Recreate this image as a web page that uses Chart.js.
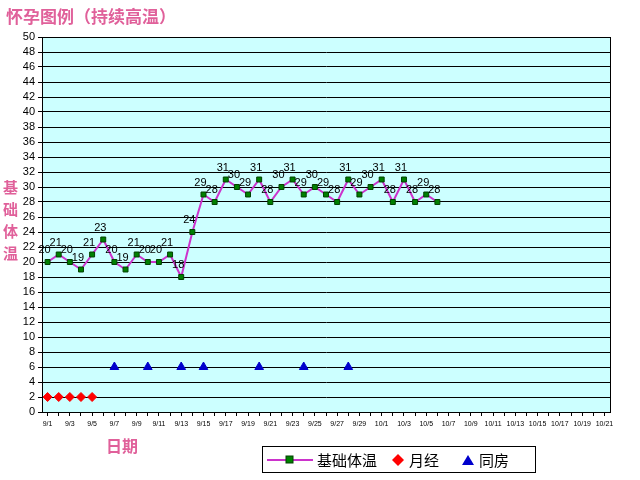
<!DOCTYPE html>
<html><head><meta charset="utf-8">
<script src="https://cdn.jsdelivr.net/npm/chart.js@4/dist/chart.umd.min.js"></script>
<style>
body{margin:0;background:#fff;font-family:"Noto Sans CJK SC",sans-serif;}
#wrap{position:relative;width:640px;height:480px;}
canvas{position:absolute;left:0;top:0;}
.t{position:absolute;color:#E0609A;font-weight:bold;}
#legend{position:absolute;left:262px;top:446px;width:272px;height:25px;border:1px solid #000;background:#fff;font-size:15px;display:flex;align-items:center;}
</style></head><body>
<div id="wrap">
<canvas id="c" width="640" height="480"></canvas>
<div class="t" style="left:6px;top:3px;font-size:17px;">怀孕图例（持续高温）</div>
<div class="t" style="left:3px;top:176px;font-size:15px;line-height:22px;width:16px;">基<br>础<br>体<br>温</div>
<div class="t" style="left:106px;top:433px;font-size:16px;">日期</div>
<div id="legend">
<svg width="48" height="14" style="margin-left:4px"><line x1="0" y1="7" x2="46" y2="7" stroke="#CC33CC" stroke-width="2"/><rect x="19" y="3" width="7" height="7" fill="#008000" stroke="#004000"/></svg>
<span style="margin-left:2px">基础体温</span>
<svg width="14" height="14" style="margin-left:14px"><polygon points="7,1 13,7 7,13 1,7" fill="#FF0000"/></svg>
<span style="margin-left:4px">月经</span>
<svg width="14" height="14" style="margin-left:22px"><polygon points="7,2 13,12 1,12" fill="#0000CC"/></svg>
<span style="margin-left:4px">同房</span>
</div>
</div>
<script>
const days = ["9/1","9/2","9/3","9/4","9/5","9/6","9/7","9/8","9/9","9/10","9/11","9/12","9/13","9/14","9/15","9/16","9/17","9/18","9/19","9/20","9/21","9/22","9/23","9/24","9/25","9/26","9/27","9/28","9/29","9/30","10/1","10/2","10/3","10/4","10/5","10/6","10/7","10/8","10/9","10/10","10/11","10/12","10/13","10/14","10/15","10/16","10/17","10/18","10/19","10/20","10/21"];
const bbt = [20,21,20,19,21,23,20,19,21,20,20,21,18,24,29,28,31,30,29,31,28,30,31,29,30,29,28,31,29,30,31,28,31,28,29,28];
const menses = [2,2,2,2,2];
const intercourseDays = ["9/7","9/10","9/13","9/15","9/20","9/24","9/28"];
const intercourseLevel = 6;
const yTicks = [0,2,4,6,8,10,12,14,16,18,20,22,24,26,28,30,32,34,36,38,40,42,44,46,48,50];

const bg = {id:'bg',beforeDraw(ch){const a=ch.chartArea,x=ch.ctx;x.save();x.fillStyle='#CCFFFF';x.fillRect(a.left,a.top,a.right-a.left,a.bottom-a.top);x.restore();},
 afterDraw(ch){const a=ch.chartArea,x=ch.ctx;x.save();x.strokeStyle='#000';x.lineWidth=1;x.strokeRect(a.left+.5,a.top+.5,a.right-a.left,a.bottom-a.top);
 const m=ch.getDatasetMeta(0);x.font='11px "Liberation Sans",Arial';x.fillStyle='#000';x.textAlign='center';
 m.data.forEach((p,i)=>{x.fillText(String(bbt[i]),p.x-3,p.y-9);});x.restore();}};

new Chart(document.getElementById('c'),{
 type:'line',
 data:{labels:days,datasets:[
  {data:bbt,borderColor:'#CC33CC',borderWidth:2,pointStyle:'rect',pointRadius:3.5,pointBackgroundColor:'#008000',pointBorderColor:'#004000',pointBorderWidth:1,tension:0},
  {data:menses,showLine:false,pointStyle:'rectRot',pointRadius:4.5,pointBackgroundColor:'#FF0000',pointBorderColor:'#FF0000'},
  {data:intercourseDays.map(d=>({x:d,y:intercourseLevel})),showLine:false,pointStyle:'triangle',pointRadius:5,pointBackgroundColor:'#0000CC',pointBorderColor:'#0000CC'}
 ]},
 options:{responsive:false,animation:false,events:[],
  layout:{padding:{left:0,top:37,right:30,bottom:44}},
  plugins:{legend:{display:false},tooltip:{enabled:false}},
  scales:{
   x:{offset:true,grid:{display:true,offset:false,drawOnChartArea:false,color:'#000',tickLength:4},border:{color:'#000'},
      afterFit(s){s.height=24;},
      ticks:{autoSkip:false,maxRotation:0,color:'#000',font:{size:7,family:'"Liberation Sans",Arial'},padding:4,
       callback(v,i){return i%2===0?days[i]:'';}}},
   y:{min:0,max:50,afterFit(s){s.width=42;},afterBuildTicks(s){s.ticks=yTicks.map(v=>({value:v}));},
      grid:{color:'#000',tickLength:4},border:{color:'#000'},
      ticks:{autoSkip:false,color:'#000',font:{size:11,family:'"Liberation Sans",Arial'},padding:3}}
  }},
 plugins:[bg]
});
</script></body></html>
